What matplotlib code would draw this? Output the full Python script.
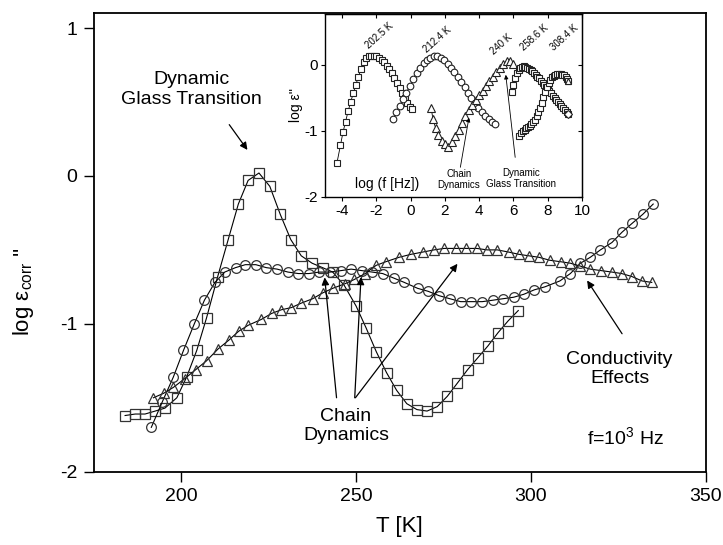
import numpy as np
import matplotlib.pyplot as plt

plt.rcParams['font.family'] = ['Liberation Sans', 'DejaVu Sans']
plt.rcParams['mathtext.fontset'] = 'custom'
plt.rcParams['mathtext.rm'] = 'Liberation Sans'
plt.rcParams['mathtext.it'] = 'Liberation Sans:italic'
plt.rcParams['axes.unicode_minus'] = False

# ---- main plot data: log eps''_corr vs T at f = 1e3 Hz ----
sq_T = [183.9, 186.8, 189.6, 192.5, 195.3, 198.7, 201.5, 204.4, 207.2, 210.4,
        213.4, 216.3, 219.1, 222.2, 225.3, 228.3, 231.3, 234.3, 237.4, 240.4,
        243.3, 246.6, 250.0, 252.9, 255.8, 258.7, 261.6, 264.5, 267.4, 270.3,
        273.2, 276.1, 279.0, 281.9, 284.8, 287.7, 290.6, 293.5, 296.4]
sq_y = [-1.62, -1.61, -1.61, -1.59, -1.57, -1.50, -1.36, -1.18, -0.96, -0.68,
        -0.43, -0.19, -0.03, 0.02, -0.07, -0.26, -0.43, -0.54, -0.59, -0.62,
        -0.65, -0.74, -0.88, -1.03, -1.19, -1.33, -1.45, -1.54, -1.58, -1.59,
        -1.56, -1.49, -1.40, -1.31, -1.23, -1.15, -1.06, -0.98, -0.91]

circ_T = [191.4, 194.5, 197.7, 200.6, 203.7, 206.6, 209.6, 212.4, 215.5, 218.3,
          221.3, 224.3, 227.4, 230.5, 233.5, 236.5, 239.5, 242.6, 245.7, 248.6,
          251.6, 254.6, 257.6, 260.7, 263.8, 267.6, 270.6, 273.8, 276.8, 279.9,
          283.0, 286.1, 289.2, 292.1, 295.1, 298.0, 301.0, 304.0, 308.3, 311.3,
          314.2, 317.0, 319.9, 323.2, 326.1, 329.0, 332.0, 335.0]
circ_y = [-1.70, -1.53, -1.36, -1.18, -1.00, -0.84, -0.72, -0.65, -0.62, -0.60,
          -0.60, -0.62, -0.63, -0.65, -0.66, -0.66, -0.65, -0.65, -0.64, -0.63,
          -0.64, -0.65, -0.66, -0.69, -0.72, -0.76, -0.78, -0.81, -0.83, -0.85,
          -0.85, -0.85, -0.84, -0.83, -0.82, -0.80, -0.77, -0.75, -0.71, -0.66,
          -0.59, -0.55, -0.50, -0.45, -0.38, -0.32, -0.26, -0.19]

tri_T = [192.0, 194.9, 197.7, 201.0, 204.1, 207.2, 210.5, 213.6, 216.4, 219.1,
         222.9, 225.8, 228.6, 231.5, 234.3, 237.6, 240.5, 243.3, 246.7, 249.5,
         252.6, 255.7, 258.5, 262.3, 265.7, 269.0, 272.3, 275.2, 278.5, 281.4,
         284.5, 287.5, 290.4, 293.7, 296.6, 299.4, 302.3, 305.4, 308.5, 311.3,
         314.2, 317.0, 320.1, 323.2, 326.0, 328.9, 331.8, 334.6]
tri_y = [-1.50, -1.47, -1.43, -1.37, -1.31, -1.25, -1.17, -1.11, -1.05, -1.01,
         -0.97, -0.93, -0.905, -0.89, -0.86, -0.83, -0.79, -0.76, -0.73, -0.70,
         -0.66, -0.605, -0.58, -0.55, -0.53, -0.515, -0.50, -0.49, -0.49, -0.49,
         -0.49, -0.50, -0.50, -0.515, -0.53, -0.54, -0.55, -0.57, -0.58, -0.59,
         -0.61, -0.63, -0.64, -0.65, -0.66, -0.68, -0.71, -0.72]

# ---- inset data: log eps'' vs log f at fixed temperatures ----
f_2025 = [-4.3, -4.1, -3.95, -3.8, -3.65, -3.5, -3.35, -3.2, -3.05, -2.9,
          -2.75, -2.6, -2.45, -2.3, -2.15, -2.0, -1.85, -1.7, -1.55, -1.4,
          -1.25, -1.1, -0.95, -0.8, -0.65, -0.5, -0.35, -0.2, -0.05, 0.05]
e_2025 = [-1.48, -1.22, -1.02, -0.86, -0.70, -0.56, -0.43, -0.30, -0.18, -0.06,
          0.04, 0.10, 0.13, 0.14, 0.14, 0.13, 0.11, 0.08, 0.04, -0.01,
          -0.07, -0.13, -0.20, -0.27, -0.35, -0.43, -0.50, -0.57, -0.64, -0.67]

f_2124 = [-1.05, -0.85, -0.65, -0.45, -0.25, -0.05, 0.15, 0.35, 0.55, 0.75,
          0.95, 1.15, 1.35, 1.55, 1.75, 1.95, 2.15, 2.35, 2.55, 2.75,
          2.95, 3.15, 3.35, 3.55, 3.75, 3.95, 4.15, 4.35, 4.55, 4.75, 4.95]
e_2124 = [-0.82, -0.72, -0.62, -0.52, -0.42, -0.32, -0.22, -0.12, -0.04, 0.03,
          0.08, 0.11, 0.13, 0.13, 0.11, 0.07, 0.02, -0.04, -0.11, -0.18,
          -0.26, -0.34, -0.42, -0.50, -0.58, -0.65, -0.71, -0.77, -0.82, -0.86, -0.90]

f_240 = [1.2, 1.3, 1.45, 1.6, 1.8, 2.0, 2.2, 2.4, 2.6, 2.8, 3.0, 3.2, 3.4,
         3.6, 3.8, 4.0, 4.2, 4.4, 4.6, 4.8, 5.0, 5.2, 5.4, 5.6, 5.8, 6.0]
e_240 = [-0.66, -0.82, -0.95, -1.06, -1.15, -1.20, -1.24, -1.17, -1.08, -0.98,
         -0.88, -0.78, -0.68, -0.60, -0.53, -0.46, -0.39, -0.32, -0.25, -0.18,
         -0.11, -0.04, 0.02, 0.06, 0.06, 0.02]

f_2586 = [5.90, 6.00, 6.10, 6.20, 6.30, 6.40, 6.50, 6.60, 6.70, 6.80, 6.90,
          7.00, 7.10, 7.20, 7.30, 7.40, 7.50, 7.60, 7.70, 7.80, 7.90, 8.00,
          8.10, 8.20, 8.30, 8.40, 8.50, 8.60, 8.70, 8.80, 8.90, 9.00, 9.10, 9.20]
e_2586 = [-0.41, -0.30, -0.20, -0.13, -0.08, -0.05, -0.03, -0.02, -0.03, -0.04,
          -0.06, -0.08, -0.10, -0.13, -0.15, -0.18, -0.20, -0.24, -0.27, -0.30,
          -0.34, -0.37, -0.40, -0.43, -0.47, -0.50, -0.53, -0.56, -0.59, -0.62,
          -0.65, -0.68, -0.71, -0.74]

f_3084 = [6.35, 6.45, 6.55, 6.65, 6.75, 6.85, 6.95, 7.05, 7.15, 7.25, 7.35,
          7.45, 7.55, 7.65, 7.75, 7.85, 7.95, 8.05, 8.15, 8.25, 8.35, 8.45,
          8.55, 8.65, 8.75, 8.85, 8.95, 9.05, 9.15, 9.20]
e_3084 = [-1.08, -1.03, -1.00, -0.98, -0.96, -0.94, -0.92, -0.90, -0.87, -0.83,
          -0.78, -0.72, -0.65, -0.57, -0.49, -0.41, -0.34, -0.28, -0.23, -0.19,
          -0.17, -0.15, -0.14, -0.14, -0.14, -0.15, -0.16, -0.18, -0.21, -0.24]

temp_labels = ["202.5 K", "212.4 K", "240 K", "258.6 K", "308.4 K"]
temp_label_f = [-1.8, 1.55, 5.3, 7.25, 9.0]
temp_label_e = [0.44, 0.38, 0.31, 0.41, 0.41]

EDGE = '#333333'

fig = plt.figure(figsize=(7.23, 5.45), dpi=100)
ax = fig.add_axes([94 / 723, (545 - 471.7) / 545, (705.6 - 94) / 723, (471.7 - 13.3) / 545])

mk = dict(mfc='none', mec=EDGE, mew=0.9, color='black', lw=0.8)
ax.plot(sq_T, sq_y, marker='s', ms=6.5, **mk)
ax.plot(circ_T, circ_y, marker='o', ms=7, **mk)
ax.plot(tri_T, tri_y, marker='^', ms=7.5, **mk)

ax.set_xlim(175, 350)
ax.set_ylim(-2, 1.1)
ax.set_xticks([200, 250, 300, 350])
ax.set_yticks([-2, -1, 0, 1])
ax.tick_params(direction='out', length=7, width=1, labelsize=14, pad=5)
for s in ax.spines.values():
    s.set_linewidth(1.3)
ax.set_xlabel('T [K]', fontsize=16, labelpad=8)
fig.text(24 / 723, 1 - 292 / 545, r"log ε$_{\rm corr}$ ''", rotation=90,
         ha='center', va='center', fontsize=16)

arr = dict(arrowstyle='-|>', color='black', lw=0.9, mutation_scale=11, shrinkA=0, shrinkB=0)
ax.text(202.9, 0.586, 'Dynamic\nGlass Transition', fontsize=14, ha='center', va='center',
        linespacing=1.25)
ax.annotate('', xy=(218.9, 0.176), xytext=(213.7, 0.347), arrowprops=arr)
ax.text(247.1, -1.69, 'Chain\nDynamics', fontsize=14, ha='center', va='center')
for tail, head in [((244.4, -1.50), (241.0, -0.686)),
                   ((249.6, -1.50), (251.4, -0.684)),
                   ((249.8, -1.50), (279.0, -0.594))]:
    ax.annotate('', xy=head, xytext=tail, arrowprops=arr)
ax.text(325.4, -1.305, 'Conductivity\nEffects', fontsize=14, ha='center', va='center')
ax.annotate('', xy=(316.1, -0.707), xytext=(326.1, -1.067), arrowprops=arr)
ax.text(316.1, -1.766, r'f=10$^3$ Hz', fontsize=14, ha='left', va='center')

# ---- inset ----
axi = fig.add_axes([325 / 723, (545 - 197) / 545, (582 - 325) / 723, (197 - 14) / 545])
mi = dict(mfc='white', mec='#222222', mew=0.8, color='black', lw=0.6)
axi.plot(f_2025, e_2025, marker='s', ms=4.3, **mi)
axi.plot(f_2124, e_2124, marker='o', ms=4.8, **mi)
axi.plot(f_240, e_240, marker='^', ms=5.3, **mi)
axi.plot(f_2586, e_2586, marker='s', ms=4, **mi)
axi.plot(f_3084, e_3084, marker='s', ms=4, **mi)
axi.plot(f_2586[-1], e_2586[-1], marker='D', ms=4, **mi)
axi.plot(f_3084[-1], e_3084[-1], marker='^', ms=4.5, **mi)

axi.set_xlim(-5, 10)
axi.set_ylim(-2, 0.77)
axi.set_xticks([-4, -2, 0, 2, 4, 6, 8, 10])
axi.set_yticks([-2, -1, 0])
axi.tick_params(direction='out', length=3, width=0.8, labelsize=11, pad=2)
for s in axi.spines.values():
    s.set_linewidth(1.0)
top = axi.secondary_xaxis('top')
top.set_xticks([-4, -2, 0, 2, 4, 6, 8, 10])
top.tick_params(direction='in', length=3, labeltop=False)
right = axi.secondary_yaxis('right')
right.set_yticks([-2, -1, 0])
right.tick_params(direction='in', length=3, labelright=False)
axi.set_ylabel("log ε''", fontsize=10, labelpad=1)
axi.text(-1.4, -1.8, 'log (f [Hz])', fontsize=10, ha='center', va='center')

for lab, x, y in zip(temp_labels, temp_label_f, temp_label_e):
    axi.text(x, y, lab, fontsize=7, rotation=42, ha='center', va='center')

arr_i = dict(arrowstyle='-|>', color='black', lw=0.6, mutation_scale=6, shrinkA=0, shrinkB=0)
axi.text(2.8, -1.74, 'Chain\nDynamics', fontsize=7, ha='center', va='center', linespacing=1.15)
axi.annotate('', xy=(3.4, -0.80), xytext=(2.9, -1.55), arrowprops=arr_i)
axi.text(6.45, -1.72, 'Dynamic\nGlass Transition', fontsize=7, ha='center', va='center',
         linespacing=1.15)
axi.annotate('', xy=(5.55, -0.15), xytext=(6.1, -1.40), arrowprops=arr_i)

fig.savefig('out.png', dpi=100)
